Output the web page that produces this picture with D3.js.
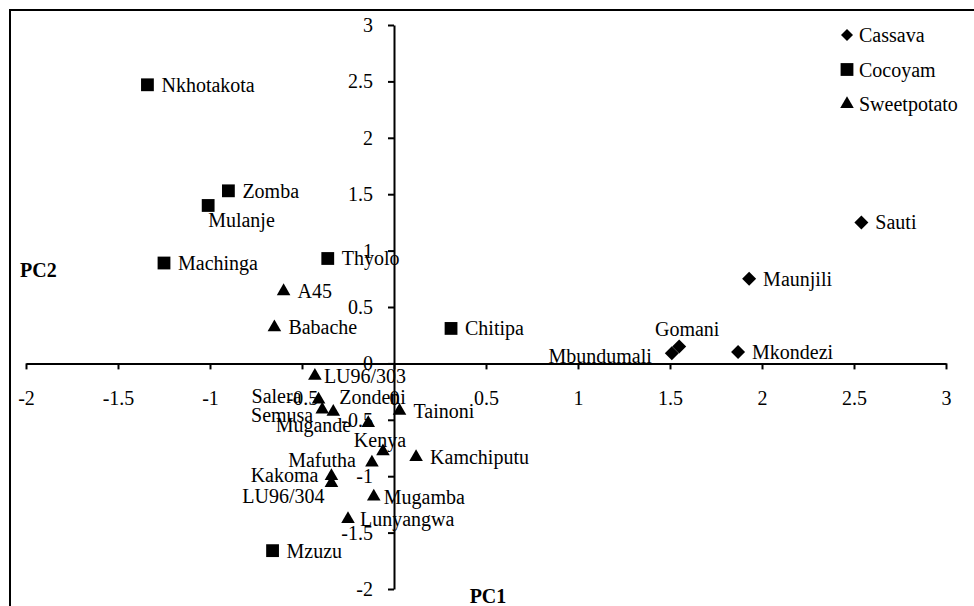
<!DOCTYPE html>
<html>
<head>
<meta charset="utf-8">
<script src="https://cdn.jsdelivr.net/npm/d3@7"></script>
<style>
  body { margin: 0; background: #fff; }
  svg text { font-family: 'Liberation Serif', 'Times New Roman', Times, 'DejaVu Serif', serif; }
  .axis path, .axis line { stroke: #000; stroke-width: 2; }
  .axis text { font-size: 20px; fill: #000; }
  .lbl { font-size: 20px; fill: #000; }
</style>
</head>
<body>
<div id="chart"></div>
<script>
// Data
const cassava = [
  { name: 'Sauti', pc1: 2.54, pc2: 1.25 },
  { name: 'Maunjili', pc1: 1.93, pc2: 0.75 },
  { name: 'Mkondezi', pc1: 1.87, pc2: 0.10 },
  { name: 'Gomani', pc1: 1.55, pc2: 0.15 },
  { name: 'Mbundumali', pc1: 1.51, pc2: 0.09 },
];
const cocoyam = [
  { name: 'Nkhotakota', pc1: -1.34, pc2: 2.47 },
  { name: 'Zomba', pc1: -0.90, pc2: 1.53 },
  { name: 'Mulanje', pc1: -1.01, pc2: 1.40 },
  { name: 'Machinga', pc1: -1.25, pc2: 0.89 },
  { name: 'Thyolo', pc1: -0.36, pc2: 0.93 },
  { name: 'Chitipa', pc1: 0.31, pc2: 0.31 },
  { name: 'Mzuzu', pc1: -0.66, pc2: -1.66 },
];
const sweetpotato = [
  { name: 'A45', pc1: -0.60, pc2: 0.64 },
  { name: 'Babache', pc1: -0.65, pc2: 0.32 },
  { name: 'LU96/303', pc1: -0.43, pc2: -0.11 },
  { name: 'Salera', pc1: -0.41, pc2: -0.32 },
  { name: 'Semusa', pc1: -0.39, pc2: -0.41 },
  { name: 'Zondeni', pc1: -0.33, pc2: -0.43 },
  { name: 'Tainoni', pc1: 0.03, pc2: -0.42 },
  { name: 'Mugande', pc1: -0.14, pc2: -0.53 },
  { name: 'Kenya', pc1: -0.06, pc2: -0.78 },
  { name: 'Mafutha', pc1: -0.12, pc2: -0.88 },
  { name: 'Kamchiputu', pc1: 0.12, pc2: -0.83 },
  { name: 'Kakoma', pc1: -0.34, pc2: -1.00 },
  { name: 'LU96/304', pc1: -0.34, pc2: -1.06 },
  { name: 'Mugamba', pc1: -0.11, pc2: -1.18 },
  { name: 'Lunyangwa', pc1: -0.25, pc2: -1.38 },
];
const xTicks = [-2, -1.5, -1, -0.5, 0, 0.5, 1, 1.5, 2, 2.5, 3];
const yTicks = [-2, -1.5, -1, -0.5, 0, 0.5, 1, 1.5, 2, 2.5, 3];

// Label placement (Excel default is right of the marker; some were moved by hand)
const labelPos = {
  'Mulanje':    { dx: 0,   dy: 22, anchor: 'start' },
  'Gomani':     { dx: 8,   dy: -10, anchor: 'middle' },
  'Mbundumali': { dx: -20, dy: 10, anchor: 'end' },
  'LU96/303':   { dx: 9,   dy: 7,  anchor: 'start' },
  'Salera':     { dx: -17, dy: 4,  anchor: 'end' },
  'Semusa':     { dx: -9,  dy: 12, anchor: 'end' },
  'Zondeni':    { dx: 6,   dy: -8, anchor: 'start' },
  'Mugande':    { dx: -17, dy: 9,  anchor: 'end' },
  'Kenya':      { dx: -3,  dy: -4, anchor: 'middle' },
  'Mafutha':    { dx: -16, dy: 4,  anchor: 'end' },
  'Kakoma':     { dx: -13, dy: 6,  anchor: 'end' },
  'LU96/304':   { dx: -7,  dy: 20, anchor: 'end' },
  'Mugamba':    { dx: 10,  dy: 7,  anchor: 'start' },
  'Lunyangwa':  { dx: 12,  dy: 7,  anchor: 'start' },
};

const width = 974;
const height = 606;

const svg = d3.select('#chart')
  .append('svg')
  .attr('width', width)
  .attr('height', height);

// Chart area border (runs off the right and bottom)
svg.append('rect')
  .attr('x', 10).attr('y', 10)
  .attr('width', 1000).attr('height', 700)
  .attr('fill', 'none')
  .attr('stroke', '#000')
  .attr('stroke-width', 2);

const xScale = d3.scaleLinear().domain([-2, 3]).range([26, 946]);
const yScale = d3.scaleLinear().domain([-2, 3]).range([589, 25]);

const fmt = (d) => String(d);

// Axes cross at zero
const xAxisG = svg.append('g')
  .attr('class', 'axis')
  .attr('transform', `translate(0, ${yScale(0)})`)
  .call(d3.axisBottom(xScale).tickValues(xTicks).tickFormat(fmt)
    .tickSize(6).tickSizeOuter(0).tickPadding(21));

const yAxisG = svg.append('g')
  .attr('class', 'axis')
  .attr('transform', `translate(${xScale(0)}, 0)`)
  .call(d3.axisLeft(yScale).tickValues(yTicks).tickFormat(fmt)
    .tickSize(6).tickSizeOuter(0).tickPadding(15));

// d3 puts a sans-serif family on the axis groups; drop it
xAxisG.attr('font-family', null);
yAxisG.attr('font-family', null);

// Marker shapes
const shapes = {
  diamond: d3.symbol().type(d3.symbolSquare).size(98),
  square: d3.symbol().type(d3.symbolSquare).size(164),
  triangle: d3.symbol().type(d3.symbolTriangle).size(80),
};
const series = [
  { name: 'Cassava', data: cassava, shape: 'diamond' },
  { name: 'Cocoyam', data: cocoyam, shape: 'square' },
  { name: 'Sweetpotato', data: sweetpotato, shape: 'triangle' },
];

function markerTransform(shape, x, y) {
  return shape === 'diamond'
    ? `translate(${x},${y}) rotate(45)`
    : `translate(${x},${y})`;
}

series.forEach((s) => {
  const g = svg.append('g');

  g.selectAll('path')
    .data(s.data)
    .join('path')
    .attr('d', shapes[s.shape])
    .attr('transform', (d) => markerTransform(s.shape, xScale(d.pc1), yScale(d.pc2)))
    .attr('fill', '#000');

  g.selectAll('text')
    .data(s.data)
    .join('text')
    .attr('class', 'lbl')
    .attr('x', (d) => xScale(d.pc1) + (labelPos[d.name]?.dx ?? 14))
    .attr('y', (d) => yScale(d.pc2) + (labelPos[d.name]?.dy ?? 7))
    .attr('text-anchor', (d) => labelPos[d.name]?.anchor ?? 'start')
    .text((d) => d.name);
});

// Axis titles
svg.append('text')
  .attr('x', 20).attr('y', 277)
  .attr('font-size', 20).attr('font-weight', 'bold')
  .text('PC2');

svg.append('text')
  .attr('x', 488).attr('y', 603)
  .attr('text-anchor', 'middle')
  .attr('font-size', 20).attr('font-weight', 'bold')
  .text('PC1');

// Legend
const legend = svg.append('g');
series.forEach((s, i) => {
  const y = 35 + i * 34.5;
  legend.append('path')
    .attr('d', s.shape === 'diamond'
      ? d3.symbol().type(d3.symbolSquare).size(72)()
      : shapes[s.shape]())
    .attr('transform', markerTransform(s.shape, 847, y))
    .attr('fill', '#000');
  legend.append('text')
    .attr('class', 'lbl')
    .attr('x', 859).attr('y', y + 7)
    .text(s.name);
});
</script>
</body>
</html>
